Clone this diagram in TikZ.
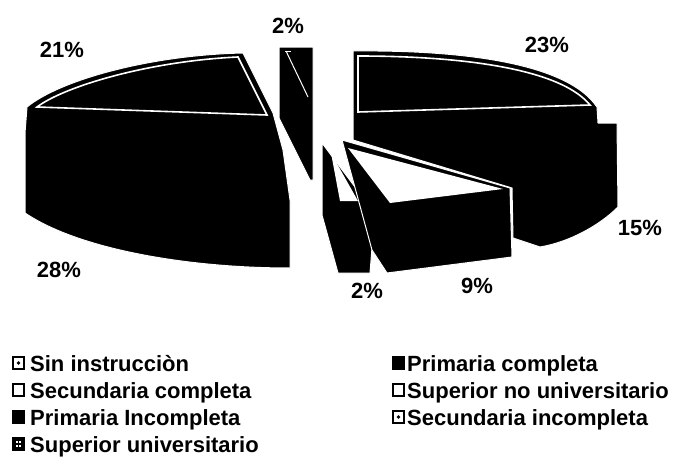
\documentclass[tikz,border=0pt]{standalone}
\usepackage{fontspec}
\setmainfont{Liberation Sans}
\begin{document}
\begin{tikzpicture}[x=1pt,y=-1pt,
  slice/.style={fill=black,draw=white,line width=1pt,line join=round},
  faceline/.style={draw=white,line width=1.6pt,line join=miter},
  pct/.style={font=\bfseries\fontsize{22}{26}\selectfont,inner sep=0pt},
  leg/.style={font=\bfseries\fontsize{22}{26}\selectfont,anchor=base west,inner sep=0pt},
  key/.style={draw=black,line width=2.2pt,minimum size=11.5pt,inner sep=0pt},
  keywhite/.style={key,fill=white},
  keyblack/.style={key,fill=black},
  keydot/.style={key,fill=white,path picture={\fill[black] (path picture bounding box.center) circle (1.8pt);}},
  keygrid/.style={key,fill=black,path picture={
     \fill[white] ([xshift=-2.8pt,yshift=-2.8pt]path picture bounding box.center) rectangle ++(2pt,2pt);
     \fill[white] ([xshift=0.8pt,yshift=-2.8pt]path picture bounding box.center) rectangle ++(2pt,2pt);
     \fill[white] ([xshift=-2.8pt,yshift=0.8pt]path picture bounding box.center) rectangle ++(2pt,2pt);
     \fill[white] ([xshift=0.8pt,yshift=0.8pt]path picture bounding box.center) rectangle ++(2pt,2pt);}}
]
\useasboundingbox (0,0) rectangle (678,463);

% right slice (23% top, 15% side)
\path[slice] (353,51) .. controls (450,50) and (565,60) .. (597,107) -- (598,123) -- (617,123)
  -- (618,207) .. controls (600,225) and (570,242) .. (540,247) -- (513,238) -- (512,188) -- (353,140) -- cycle;
\path[faceline] (358,56) .. controls (450,56) and (558,66) .. (590,105) -- (358,112) -- cycle;

% left slice (21% top, 28% side)
\path[slice] (27,107) .. controls (60,80) and (150,55) .. (243,53) -- (273,113) -- (283,150)
  -- (290,200) -- (290,268) .. controls (190,268) and (80,250) .. (25,213) -- (25,133) -- cycle;
\path[faceline] (37,107) .. controls (65,86) and (150,61) .. (238,57) -- (267,115) -- cycle;

% top 2% slice
\path[slice] (279,47) -- (313,47) -- (313,180) -- (310,180) -- (279,118) -- cycle;
\draw[white,line width=1pt] (286,51) -- (308,97);
\draw[white,line width=1pt] (285,51) -- (291,51);

% bottom 2% slice
\path[slice] (322,143) -- (370,207) -- (372,248) -- (370,273) -- (338,273) -- (322,215) -- cycle;
\fill[white] (331,153) -- (358,201) -- (340,201) -- cycle;

% 9% slice
\path[slice] (342,140) -- (510,188) -- (512,257) -- (387,273) -- (372,250) -- cycle;
\fill[white] (348,148) -- (503,189) -- (390,203) -- cycle;

% percentage labels
\node[pct] (l2a) at (288,26) {2\%};
\node[pct] (l21) at (62,50) {21\%};
\node[pct] (l23) at (547,45) {23\%};
\node[pct] (l15) at (640,228) {15\%};
\node[pct] (l28) at (59,270) {28\%};
\node[pct] (l2b) at (367,291) {2\%};
\node[pct] (l9) at (477,286) {9\%};

% legend
\node[keydot]   (k1) at (18.5,363) {};
\node[leg]      (t1) at (30,371) {Sin instrucciòn};
\node[keywhite] (k2) at (18.5,390) {};
\node[leg]      (t2) at (30,398) {Secundaria completa};
\node[keyblack] (k3) at (18.5,417) {};
\node[leg]      (t3) at (30,425) {Primaria Incompleta};
\node[keygrid]  (k4) at (18.5,444) {};
\node[leg]      (t4) at (30,452) {Superior universitario};

\node[keyblack] (k5) at (398.5,363) {};
\node[leg]      (t5) at (407,371) {Primaria completa};
\node[keywhite] (k6) at (398.5,390) {};
\node[leg]      (t6) at (407,398) {Superior no universitario};
\node[keydot]   (k7) at (398.5,417) {};
\node[leg]      (t7) at (407,425) {Secundaria incompleta};
\end{tikzpicture}
\end{document}
